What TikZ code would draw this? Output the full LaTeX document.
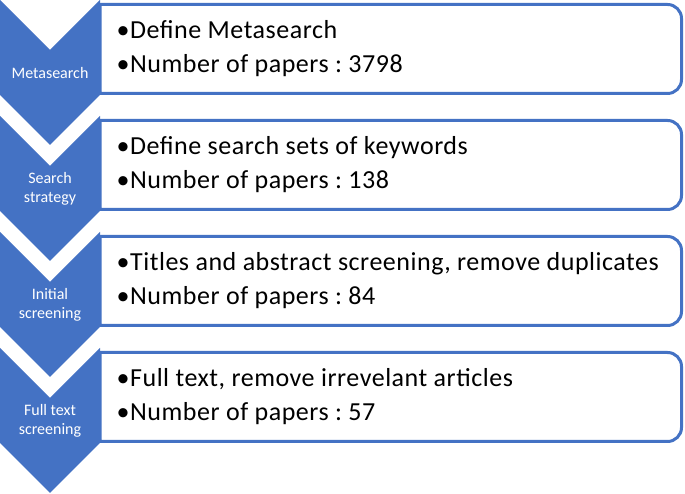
\documentclass[tikz,border=0pt]{standalone}
\usepackage{fontspec}
\setmainfont{Carlito}
\newfontfamily\itemfont{Carlito}[LetterSpace=2]
\frenchspacing
\definecolor{officeblue}{HTML}{4472C4}
\tikzset{
  chev/.style={fill=officeblue, draw=none},
  panel/.style={draw=officeblue, line width=3pt, fill=white},
  chevtext/.style={text=white, font=\fontsize{16}{18.5}\selectfont, align=center, inner sep=0pt},
  itemtext/.style={text=black, font=\itemfont\fontsize{26}{30}\selectfont, anchor=base west, inner sep=0pt}
}
\begin{document}
\begin{tikzpicture}[x=1pt,y=1pt]
\useasboundingbox (0,0) rectangle (685,494);
\fill[white] (0,0) rectangle (685,494);
\foreach \k/\lab/\la/\lb in {
  0/{Metasearch}/{Define Metasearch}/{3798},
  1/{Search\\strategy}/{Define search sets of keywords}/{138},
  2/{Initial\\screening}/{Titles and abstract screening, remove duplicates}/{84},
  3/{Full text\\screening}/{Full text, remove irrevelant articles}/{57}}{
  \pgfmathsetmacro{\off}{116*\k}
  % chevron
  \fill[chev] (0,494-\off) -- (50,444-\off) -- (100,494-\off) -- (100,399-\off)
     -- (50,349-\off) -- (0,399-\off) -- cycle;
  % panel with right rounded corners
  \draw[panel] (100,489.5-\off) -- (667.5,489.5-\off)
     arc[start angle=90, end angle=0, radius=14] -- (681.5,414.5-\off)
     arc[start angle=0, end angle=-90, radius=14] -- (100,400.5-\off) -- cycle;
  \node[chevtext] (lab\k) at (50,421-\off) {\lab};
  \node[itemtext] (a\k) at (116.5,455.3-\off) {•\la};
  \node[itemtext] (b\k) at (116.5,421.3-\off) {•Number of papers : \lb};
}
\end{tikzpicture}
\end{document}
